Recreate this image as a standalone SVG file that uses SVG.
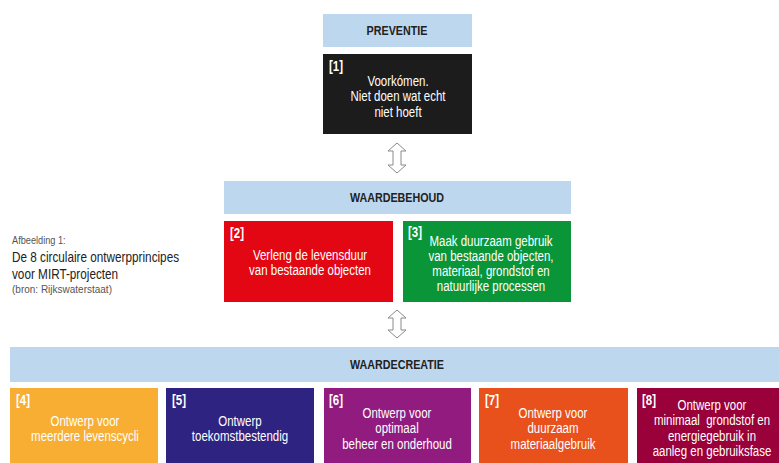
<svg xmlns="http://www.w3.org/2000/svg" width="779" height="463" viewBox="0 0 779 463">
<style>
text{font-family:"Liberation Sans",Arial,sans-serif}
.hdr{fill:#BDD7EE}
.ht{font-size:12.5px;font-weight:bold;fill:#222;text-anchor:middle}
.num{font-size:14px;font-weight:bold;fill:#fff}
.bt{font-size:14px;fill:#fff;text-anchor:middle}
.arr{fill:#fff;stroke:#8a8a8a;stroke-width:1}
</style>
<rect width="779" height="463" fill="#fff"/>
<g id="caption">
<text transform="translate(12 0) scale(0.8 1)" x="0" y="244" font-size="11.5" fill="#555">Afbeelding 1:</text>
<text transform="translate(12 0) scale(0.84 1)" x="0" y="262" font-size="14" fill="#222">De 8 circulaire ontwerpprincipes</text>
<text transform="translate(12 0) scale(0.84 1)" x="0" y="279" font-size="14" fill="#222">voor MIRT-projecten</text>
<text transform="translate(12 0) scale(0.87 1)" x="0" y="293" font-size="11.5" fill="#555">(bron: Rijkswaterstaat)</text>
</g>
<g id="preventie">
<rect class="hdr" x="323" y="14" width="149" height="33"/>
<text class="ht" transform="translate(397 0) scale(0.86 1)" x="0" y="35">PREVENTIE</text>
</g>
<g id="p1">
<rect x="323" y="54" width="149" height="80" fill="#1c1c1c"/>
<text class="num" transform="translate(329 0) scale(0.82 1)" x="0" y="71">[1]</text>
<text class="bt" transform="translate(398 0) scale(0.82 1)" x="0" y="86">Voorkómen.</text>
<text class="bt" transform="translate(398 0) scale(0.82 1)" x="0" y="101.5">Niet doen wat echt</text>
<text class="bt" transform="translate(398 0) scale(0.82 1)" x="0" y="117">niet hoeft</text>
</g>
<g id="waardebehoud">
<rect class="hdr" x="224" y="181" width="347" height="33"/>
<text class="ht" transform="translate(397 0) scale(0.86 1)" x="0" y="202">WAARDEBEHOUD</text>
</g>
<g id="p2">
<rect x="224" y="221" width="169" height="81" fill="#E30613"/>
<text class="num" transform="translate(230 0) scale(0.82 1)" x="0" y="238">[2]</text>
<text class="bt" transform="translate(310 0) scale(0.82 1)" x="0" y="260">Verleng de levensduur</text>
<text class="bt" transform="translate(310 0) scale(0.82 1)" x="0" y="275">van bestaande objecten</text>
</g>
<g id="p3">
<rect x="403" y="221" width="168" height="81" fill="#0A9638"/>
<text class="num" transform="translate(408 0) scale(0.82 1)" x="0" y="237">[3]</text>
<text class="bt" transform="translate(491 0) scale(0.82 1)" x="0" y="246">Maak duurzaam gebruik</text>
<text class="bt" transform="translate(491 0) scale(0.82 1)" x="0" y="261">van bestaande objecten,</text>
<text class="bt" transform="translate(491 0) scale(0.82 1)" x="0" y="276">materiaal, grondstof en</text>
<text class="bt" transform="translate(491 0) scale(0.82 1)" x="0" y="291">natuurlijke processen</text>
</g>
<g id="waardecreatie">
<rect class="hdr" x="10" y="347" width="769" height="35"/>
<text class="ht" transform="translate(397 0) scale(0.86 1)" x="0" y="369">WAARDECREATIE</text>
</g>
<g id="p4">
<rect x="10" y="388" width="148" height="75" fill="#F7AE32"/>
<text class="num" transform="translate(16 0) scale(0.82 1)" x="0" y="405">[4]</text>
<text class="bt" transform="translate(85 0) scale(0.82 1)" x="0" y="426">Ontwerp voor</text>
<text class="bt" transform="translate(85 0) scale(0.82 1)" x="0" y="441">meerdere levenscycli</text>
</g>
<g id="p5">
<rect x="166" y="388" width="148" height="75" fill="#2E2381"/>
<text class="num" transform="translate(172 0) scale(0.82 1)" x="0" y="405">[5]</text>
<text class="bt" transform="translate(240 0) scale(0.82 1)" x="0" y="426">Ontwerp</text>
<text class="bt" transform="translate(240 0) scale(0.82 1)" x="0" y="441">toekomstbestendig</text>
</g>
<g id="p6">
<rect x="324" y="388" width="147" height="75" fill="#921B80"/>
<text class="num" transform="translate(329 0) scale(0.82 1)" x="0" y="405">[6]</text>
<text class="bt" transform="translate(397 0) scale(0.82 1)" x="0" y="418">Ontwerp voor</text>
<text class="bt" transform="translate(397 0) scale(0.82 1)" x="0" y="433">optimaal</text>
<text class="bt" transform="translate(397 0) scale(0.82 1)" x="0" y="449">beheer en onderhoud</text>
</g>
<g id="p7">
<rect x="479" y="388" width="149" height="75" fill="#E8501C"/>
<text class="num" transform="translate(485 0) scale(0.82 1)" x="0" y="405">[7]</text>
<text class="bt" transform="translate(553 0) scale(0.82 1)" x="0" y="418">Ontwerp voor</text>
<text class="bt" transform="translate(553 0) scale(0.82 1)" x="0" y="433">duurzaam</text>
<text class="bt" transform="translate(553 0) scale(0.82 1)" x="0" y="449">materiaalgebruik</text>
</g>
<g id="p8">
<rect x="637" y="388" width="142" height="75" fill="#9A0039"/>
<text class="num" transform="translate(642 0) scale(0.82 1)" x="0" y="405">[8]</text>
<text class="bt" transform="translate(712 0) scale(0.82 1)" x="0" y="410">Ontwerp voor</text>
<text class="bt" transform="translate(712 0) scale(0.82 1)" x="0" y="425" xml:space="preserve">minimaal  grondstof en</text>
<text class="bt" transform="translate(712 0) scale(0.82 1)" x="0" y="441">energiegebruik in</text>
<text class="bt" transform="translate(712 0) scale(0.82 1)" x="0" y="456">aanleg en gebruiksfase</text>
</g>
<g id="connectors">
<path class="arr" d="M397,143 L406,151 L401,151 L401,165 L406,165 L397,173 L388,165 L393,165 L393,151 L388,151 Z"/>
<path class="arr" d="M397,310 L406,318 L401,318 L401,330 L406,330 L397,338 L388,330 L393,330 L393,318 L388,318 Z"/>
</g>
</svg>
